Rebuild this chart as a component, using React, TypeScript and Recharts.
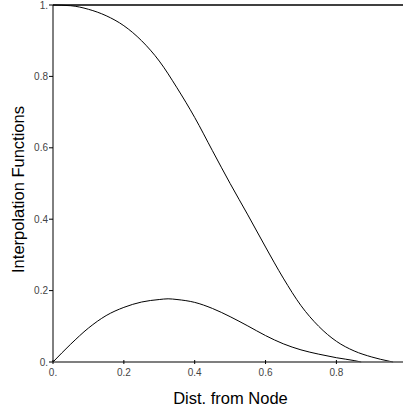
import React from "react";
import { LineChart, Line, XAxis, YAxis } from "recharts";

const xTicks = [0, 0.2, 0.4, 0.6, 0.8];
const yTicks = [0, 0.2, 0.4, 0.6, 0.8, 1];

const constX = [0, 0.988];
const constY = [1, 1];

const fallX = [0, 0.05, 0.1, 0.15, 0.2, 0.25, 0.3, 0.35, 0.4, 0.45, 0.5, 0.55, 0.6, 0.65, 0.7, 0.75, 0.8, 0.85, 0.9, 0.95, 0.96];
const fallY = [1, 0.998, 0.988, 0.97, 0.942, 0.9, 0.843, 0.768, 0.685, 0.592, 0.5, 0.412, 0.322, 0.235, 0.158, 0.1, 0.058, 0.031, 0.014, 0.002, 0];

const bumpX = [0, 0.05, 0.1, 0.15, 0.2, 0.25, 0.3, 0.325, 0.35, 0.4, 0.45, 0.5, 0.55, 0.6, 0.65, 0.7, 0.75, 0.8, 0.85, 0.87];
const bumpY = [0, 0.05, 0.095, 0.13, 0.153, 0.168, 0.175, 0.177, 0.175, 0.167, 0.15, 0.127, 0.101, 0.074, 0.051, 0.034, 0.022, 0.012, 0.004, 0];

const toRows = (xs: number[], ys: number[]) => xs.map((x, i) => ({ x, y: ys[i] }));

const constData = toRows(constX, constY);
const fallData = toRows(fallX, fallY);
const bumpData = toRows(bumpX, bumpY);

const FONT = "'Liberation Sans', Arial, Helvetica, sans-serif";

const fmt = (v: number) => (v === 0 ? "0." : v === 1 ? "1." : String(v));

const XTick = (props: any) => {
  const { x, y, payload } = props;
  return (
    <g>
      <line x1={x} x2={x} y1={y - 2} y2={y + 2} stroke="#000" strokeWidth={1} />
      <text x={x} y={y + 14} textAnchor="middle" fontSize={10} fill="#444" fontFamily={FONT}>
        {fmt(payload.value)}
      </text>
    </g>
  );
};

export default function App() {
  return (
    <div style={{ position: "absolute", left: 0, top: 0, width: 403, height: 413 }}>
      <LineChart
        width={403}
        height={413}
        margin={{ top: 5, right: 0, left: 0, bottom: 0 }}
      >
        <XAxis
          dataKey="x"
          type="number"
          domain={[0, 0.988]}
          allowDataOverflow
          ticks={xTicks}
          height={51}
          tickSize={0}
          tickMargin={0}
          tickLine={false}
          axisLine={{ stroke: "#555", strokeWidth: 1.5 }}
          tick={<XTick />}
        />
        <YAxis
          type="number"
          domain={[0, 1]}
          ticks={yTicks}
          width={53}
          tickSize={4}
          tickMargin={1}
          tickFormatter={fmt}
          axisLine={{ stroke: "#000", strokeWidth: 1 }}
          tickLine={{ stroke: "#000" }}
          tick={{ fontSize: 10, fill: "#444", fontFamily: FONT }}
          interval={0}
        />
        <Line data={constData} dataKey="y" type="linear" stroke="#000" strokeWidth={1.5} dot={false} isAnimationActive={false} />
        <Line data={fallData} dataKey="y" type="monotone" stroke="#000" strokeWidth={1} dot={false} isAnimationActive={false} />
        <Line data={bumpData} dataKey="y" type="monotone" stroke="#000" strokeWidth={1} dot={false} isAnimationActive={false} />
      </LineChart>
      <svg
        width={403}
        height={413}
        style={{ position: "absolute", left: 0, top: 0, pointerEvents: "none" }}
      >
        <text
          transform="translate(23.5,189.5) rotate(-90)"
          textAnchor="middle"
          fontSize={16.5}
          fill="#000"
          fontFamily={FONT}
        >
          Interpolation Functions
        </text>
        <text x={230.5} y={404} textAnchor="middle" fontSize={16.5} fill="#000" fontFamily={FONT}>
          Dist. from Node
        </text>
      </svg>
    </div>
  );
}
